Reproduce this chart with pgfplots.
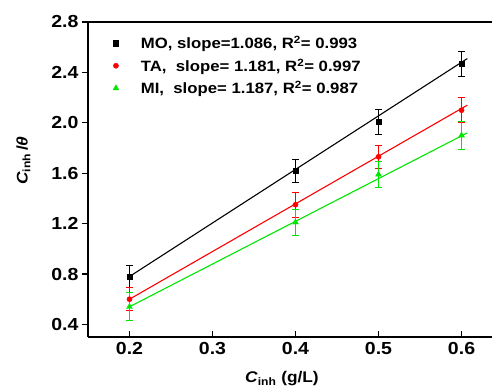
\documentclass[border=0pt]{standalone}
\usepackage{fontspec}
\setmainfont[FakeStretch=1.12]{Liberation Sans}
\usepackage{pgfplots}
\pgfplotsset{compat=1.18}
\definecolor{mygreen}{RGB}{0,230,0}
\begin{document}
\begin{tikzpicture}[x=1bp,y=1bp]
\begin{axis}[
  name=ax,
  at={(0,0)}, anchor=south west,
  scale only axis,
  width=404bp, height=315bp,
  xmin=0.15, xmax=0.6367, ymin=0.3, ymax=2.8,
  axis lines*=left,
  axis line style={line width=1.4bp},
  xtick={0.2,0.3,0.4,0.5,0.6},
  ytick={0.4,0.8,1.2,1.6,2.0,2.4,2.8},
  xtick align=inside, ytick align=outside,
  major tick length=6bp,
  tick style={line width=1.2bp, black},
  /pgf/number format/assume math mode=true,
  /pgf/number format/fixed, /pgf/number format/fixed zerofill,
  /pgf/number format/precision=1,
  ticklabel style={font=\fontsize{17.5}{19}\selectfont\bfseries},
  xticklabel style={yshift=-2bp},
  xlabel={\textit{C}\textsubscript{inh} (g/L)},
  ylabel={\textit{C}\textsubscript{inh}\,/\textit{θ}},
  label style={font=\fontsize{15.5}{17}\selectfont\bfseries},
  xlabel style={at={(axis description cs:0.48,0)}, anchor=north, yshift=-31bp},
  ylabel style={at={(axis description cs:0,0.56)}, anchor=south, yshift=54bp},
  legend style={draw=none, fill=none, at={(axis description cs:0.054,0.968)}, anchor=north west,
     font=\fontsize{15}{17}\selectfont\bfseries, row sep=4.5bp,
     /tikz/every odd column/.append style={column sep=20bp}},
  legend cell align=left,
]
\addplot[only marks, mark=square*, mark size=2.6bp, black,
  error bars/.cd, y dir=both, y explicit, error bar style={line width=0.8bp},
  error mark options={rotate=90, mark size=3.5bp, line width=0.8bp}]
  coordinates {(0.2,0.78) +- (0,0.09) (0.4,1.62) +- (0,0.09) (0.5,2.01) +- (0,0.10) (0.6,2.47) +- (0,0.10)};
\addlegendentry{MO, slope=1.086, R\textsuperscript{2}= 0.993}
\addplot[only marks, mark=*, mark size=2.6bp, red,
  error bars/.cd, y dir=both, y explicit, error bar style={line width=0.8bp},
  error mark options={rotate=90, mark size=3.5bp, line width=0.8bp}]
  coordinates {(0.2,0.60) +- (0,0.09) (0.4,1.35) +- (0,0.10) (0.5,1.73) +- (0,0.09) (0.6,2.10) +- (0,0.10)};
\addlegendentry{TA,\ \ slope= 1.181, R\textsuperscript{2}= 0.997}
\addplot[only marks, mark=triangle*, mark size=3.4bp, mygreen,
  error bars/.cd, y dir=both, y explicit, error bar style={line width=0.8bp},
  error mark options={rotate=90, mark size=3.5bp, line width=0.8bp}]
  coordinates {(0.2,0.54) +- (0,0.11) (0.4,1.21) +- (0,0.10) (0.5,1.59) +- (0,0.10) (0.6,1.90) +- (0,0.11)};
\addlegendentry{MI,\ \ slope= 1.187, R\textsuperscript{2}= 0.987}
\addplot[black, line width=1.1bp, forget plot] coordinates {(0.2,0.78) (0.607,2.51)};
\addplot[red, line width=1.1bp, forget plot] coordinates {(0.2,0.60) (0.607,2.14)};
\addplot[mygreen, line width=1.1bp, forget plot] coordinates {(0.2,0.54) (0.607,1.92)};
\draw[line width=1.4bp] (rel axis cs:0,1) -- (rel axis cs:1,1);
\end{axis}
\pgfresetboundingbox
\useasboundingbox ([shift={(-88bp,-51bp)}]ax.south west) rectangle ([shift={(0bp,22bp)}]ax.north east);
\end{tikzpicture}
\end{document}
